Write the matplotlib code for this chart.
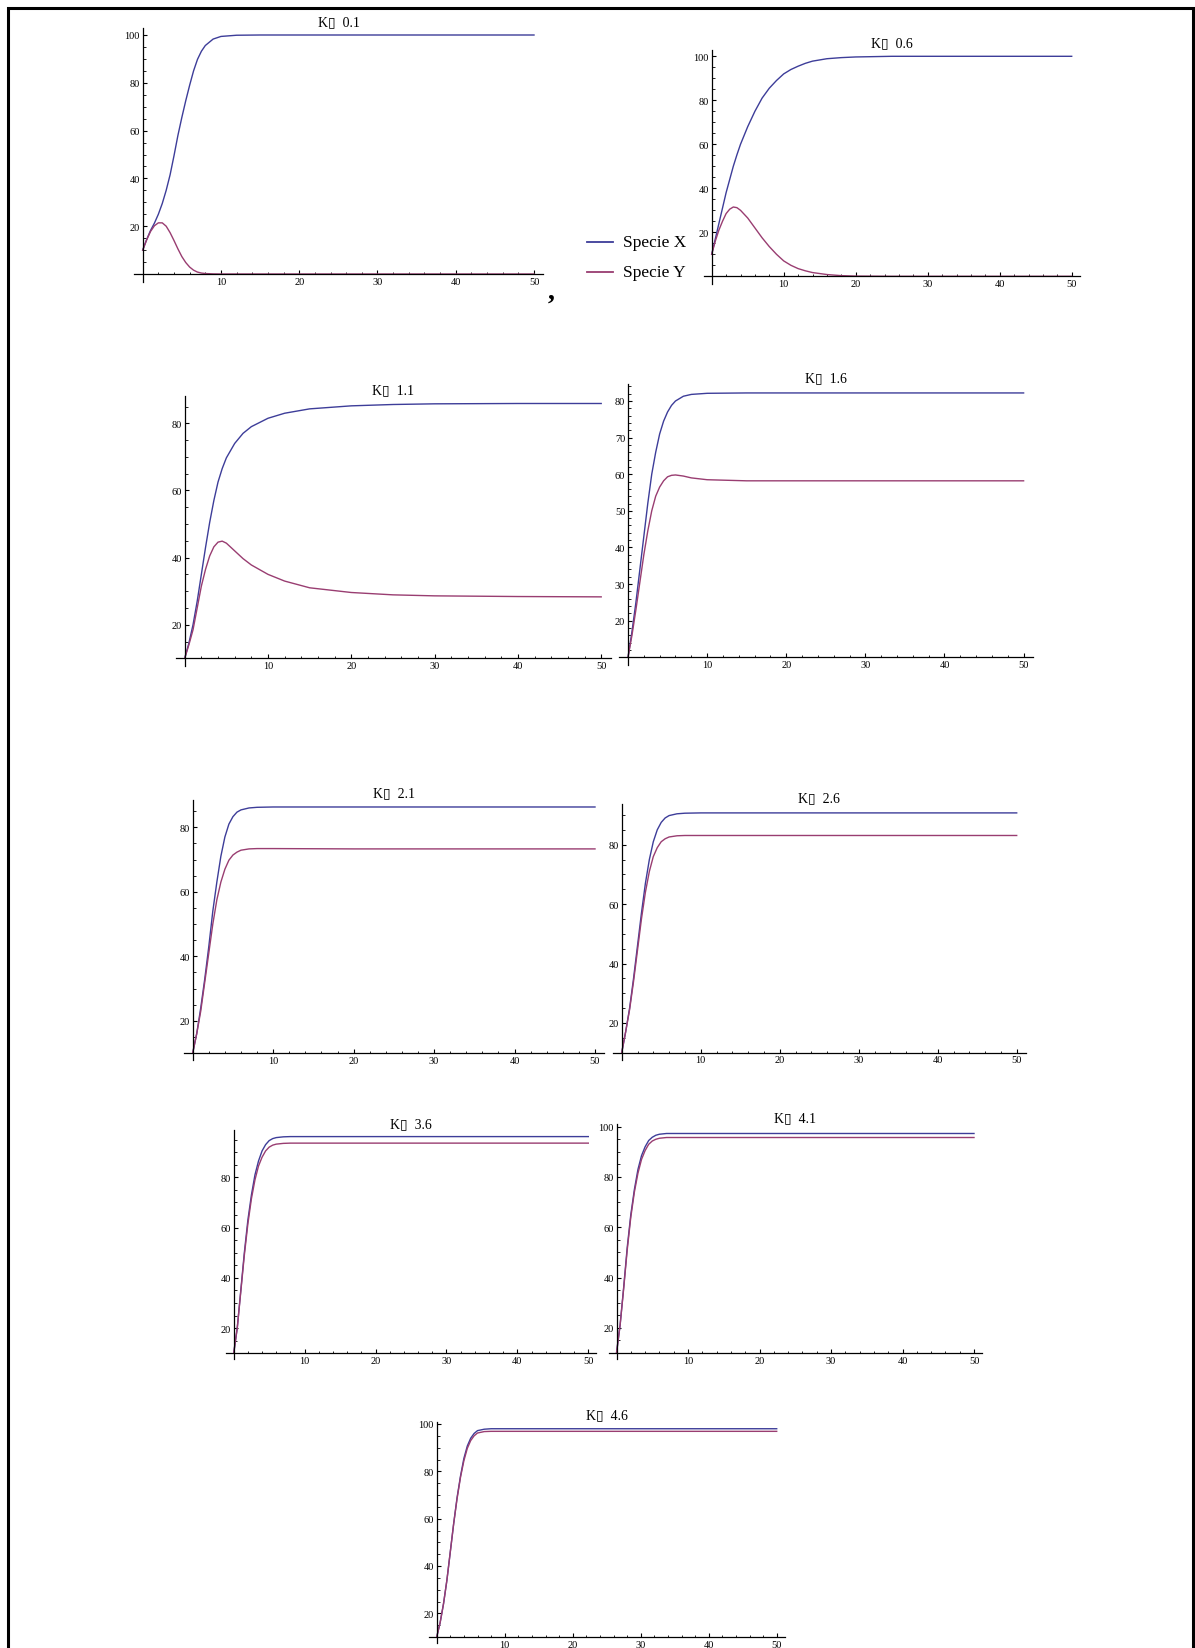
import matplotlib
matplotlib.use("Agg")
import matplotlib.pyplot as plt
from matplotlib.lines import Line2D

# Figure size in pixels
W, H = 1195, 1649

BLUE = "#3d3d99"
RED = "#993d71"
SERIF = ["Liberation Serif", "DejaVu Serif"]
BOX_FONT = ["Liberation Serif", "DejaVu Sans"]

# ---- data (t, Specie X, Specie Y) ----
t_k01 = [0, 0.5, 1, 1.5, 2, 2.5, 3, 3.5, 4, 4.5, 5, 5.5, 6, 6.5, 7, 7.5, 8, 9, 10, 12, 15, 20, 30, 40, 50]
x_k01 = [10, 14.4, 18.2, 21.3, 25, 29.5, 35, 41.5, 49.5, 58, 65.5, 72.5, 79, 85, 89.8, 93.2, 95.6, 98.3, 99.4, 99.9, 100, 100, 100, 100, 100]
y_k01 = [10, 14.2, 17.8, 20.2, 21.4, 21.4, 20, 17.3, 14, 10.5, 7.3, 4.8, 2.9, 1.6, 0.8, 0.4, 0.2, 0.05, 0, 0, 0, 0, 0, 0, 0]

t_k06 = [0, 0.5, 1, 1.5, 2, 2.5, 3, 3.5, 4, 5, 6, 7, 8, 9, 10, 11, 12, 13, 14, 16, 18, 20, 25, 30, 40, 50]
x_k06 = [10, 17, 24, 31, 38, 44, 50, 55.2, 60, 68, 75, 81, 85.5, 89, 92, 94, 95.5, 96.8, 97.8, 98.9, 99.4, 99.7, 100, 100, 100, 100]
y_k06 = [10, 16, 21, 25, 28.5, 30.5, 31.5, 31.2, 30, 26.5, 22, 17.5, 13.5, 10, 7, 5, 3.5, 2.5, 1.7, 0.8, 0.3, 0.1, 0, 0, 0, 0]

t_k11 = [0, 0.5, 1, 1.5, 2, 2.5, 3, 3.5, 4, 4.5, 5, 6, 7, 8, 10, 12, 15, 20, 25, 30, 40, 50]
x_k11 = [10, 14.5, 20, 27, 35, 43, 50.5, 57, 62.5, 66.5, 69.7, 74, 77, 79, 81.5, 83, 84.3, 85.2, 85.6, 85.8, 85.9, 85.9]
y_k11 = [10, 14, 18.5, 25, 31.5, 36.5, 40.5, 43.2, 44.6, 44.9, 44.3, 42, 39.7, 37.8, 35, 33, 31, 29.6, 28.9, 28.6, 28.4, 28.3]

t_k16 = [0, 0.5, 1, 1.5, 2, 2.5, 3, 3.5, 4, 4.5, 5, 5.5, 6, 7, 8, 10, 15, 20, 30, 50]
x_k16 = [10, 17, 25, 34, 43, 52, 60, 66, 71, 74.5, 77, 78.8, 80, 81.3, 81.8, 82.1, 82.2, 82.2, 82.2, 82.2]
y_k16 = [10, 16, 23, 30.5, 38, 44.5, 50, 54, 56.5, 58.2, 59.3, 59.7, 59.8, 59.5, 59, 58.5, 58.2, 58.2, 58.2, 58.2]

t_k21 = [0, 0.5, 1, 1.5, 2, 2.5, 3, 3.5, 4, 4.5, 5, 5.5, 6, 7, 8, 10, 20, 50]
x_k21 = [10, 16, 24, 33, 43, 54, 63, 71, 77, 81, 83.3, 84.7, 85.4, 86, 86.2, 86.3, 86.3, 86.3]
y_k21 = [10, 16, 23, 32, 41, 50, 57.5, 63, 67, 69.8, 71.4, 72.3, 72.9, 73.3, 73.4, 73.4, 73.3, 73.3]

t_k26 = [0, 0.5, 1, 1.5, 2, 2.5, 3, 3.5, 4, 4.5, 5, 5.5, 6, 7, 8, 10, 20, 50]
x_k26 = [10, 17, 25, 35, 46, 57, 67, 75, 81, 85, 87.5, 89, 89.8, 90.4, 90.6, 90.7, 90.7, 90.7]
y_k26 = [10, 17, 24.5, 34, 44.5, 55, 64, 71, 76, 79, 81, 82, 82.6, 83, 83.1, 83.1, 83.1, 83.1]

t_k36 = [0, 0.5, 1, 1.5, 2, 2.5, 3, 3.5, 4, 4.5, 5, 5.5, 6, 7, 8, 10, 20, 50]
x_k36 = [10, 20, 35, 50, 63, 73, 81, 86.5, 90.5, 93, 94.6, 95.4, 95.8, 96.1, 96.2, 96.2, 96.2, 96.2]
y_k36 = [10, 20, 34.5, 49, 61.5, 71.5, 79, 84.5, 88, 90.5, 92, 92.8, 93.2, 93.5, 93.6, 93.6, 93.6, 93.6]

t_k41 = [0, 0.5, 1, 1.5, 2, 2.5, 3, 3.5, 4, 4.5, 5, 5.5, 6, 7, 8, 10, 20, 50]
x_k41 = [10, 21, 36, 52, 65, 75, 83, 88.5, 92, 94.5, 95.8, 96.6, 97, 97.3, 97.3, 97.3, 97.3, 97.3]
y_k41 = [10, 21, 35.5, 51, 64, 74, 81.5, 87, 90.5, 93, 94.3, 95, 95.4, 95.7, 95.7, 95.7, 95.7, 95.7]

t_k46 = [0, 0.5, 1, 1.5, 2, 2.5, 3, 3.5, 4, 4.5, 5, 5.5, 6, 7, 8, 10, 20, 50]
x_k46 = [10, 16, 24, 34, 46, 58, 69, 78, 85.5, 90.7, 94, 96, 97.2, 97.8, 98, 98, 98, 98]
y_k46 = [10, 16, 24, 34, 46, 58, 68.5, 77.5, 84.5, 89.7, 93, 95, 96.2, 96.8, 96.9, 96.9, 96.9, 96.9]

titles = ["0.1", "0.6", "1.1", "1.6", "2.1", "2.6", "3.6", "4.1", "4.6"]
series = [
    (t_k01, x_k01, y_k01), (t_k06, x_k06, y_k06), (t_k11, x_k11, y_k11),
    (t_k16, x_k16, y_k16), (t_k21, x_k21, y_k21), (t_k26, x_k26, y_k26),
    (t_k36, x_k36, y_k36), (t_k41, x_k41, y_k41), (t_k46, x_k46, y_k46),
]
y_major = [20, 20, 20, 10, 20, 20, 20, 20, 20]
y_minor = [5, 5, 5, 2, 5, 5, 5, 5, 5]

# ---- layout: pixel position of t=0, t=50, two y reference values, y limits ----
layout = [
    (142.7, 534.0, 0, 275.0, 100, 36.0, (-3.5, 103)),
    (711.7, 1071.7, 0, 277.3, 100, 57.3, (-3.5, 103)),
    (184.7, 601.2, 10, 659.3, 80, 424.3, (7.8, 88)),
    (628.0, 1023.6, 10, 658.3, 80, 402.0, (8.0, 84.6)),
    (192.7, 595.0, 10, 1054.0, 80, 828.3, (7.8, 88.6)),
    (621.7, 1016.7, 10, 1053.7, 80, 845.7, (7.6, 93.7)),
    (233.7, 588.3, 10, 1354.2, 80, 1178.3, (7.5, 98.8)),
    (616.5, 974.0, 10, 1354.0, 100, 1127.7, (7.5, 101)),
    (436.7, 776.7, 10, 1638.0, 100, 1425.0, (7.5, 101)),
]
XLIM = (-1.1, 51.15)

fig = plt.figure(figsize=(W / 100, H / 100), dpi=100)
fig.patch.set_facecolor("white")


def make_axes(t0px, t50px, ya, ya_px, yb, yb_px, ylim):
    sx = (t50px - t0px) / 50.0
    left = t0px + XLIM[0] * sx
    right = t0px + XLIM[1] * sx
    sy = (ya_px - yb_px) / (yb - ya)
    bottom = ya_px + (ya - ylim[0]) * sy
    top = ya_px - (ylim[1] - ya) * sy
    return fig.add_axes([left / W, 1 - bottom / H, (right - left) / W, (bottom - top) / H])


for i, (ts, xs, ys) in enumerate(series):
    t0px, t50px, ya, ya_px, yb, yb_px, ylim = layout[i]
    ax = make_axes(*layout[i])
    ax.plot(ts, xs, color=BLUE, lw=1.0, solid_joinstyle="round")
    ax.plot(ts, ys, color=RED, lw=1.0, solid_joinstyle="round")
    ax.set_xlim(*XLIM)
    ax.set_ylim(*ylim)
    ax.patch.set_alpha(0)

    # axes crossing at (0, origin) like the original
    origin = ya
    ax.spines["left"].set_position(("data", 0))
    ax.spines["bottom"].set_position(("data", origin))
    ax.spines["top"].set_visible(False)
    ax.spines["right"].set_visible(False)
    for s in ("left", "bottom"):
        ax.spines[s].set_linewidth(0.9)

    ax.set_xticks([10, 20, 30, 40, 50])
    yt = [v for v in range(0, 101, y_major[i]) if v > origin + 5 and v <= ylim[1]]
    ax.set_yticks(yt)
    xm = [v for v in range(2, 51, 2) if v % 10]
    ax.set_xticks(xm, minor=True)
    ym = [v for v in range(0, 101, y_minor[i]) if v % y_major[i] and origin < v < ylim[1]]
    ax.set_yticks(ym, minor=True)

    ax.tick_params(which="major", direction="in", length=3.2, width=0.8,
                   labelsize=7.5, pad=2)
    ax.tick_params(which="minor", direction="in", length=1.8, width=0.6)
    for lab in ax.get_xticklabels() + ax.get_yticklabels():
        lab.set_family(SERIF)

    ax.set_title("K\u25af  " + titles[i], fontsize=10, family=BOX_FONT, pad=1.5)

# ---- legend between the two top panels ----
for k, (col, name) in enumerate([(BLUE, "Specie X"), (RED, "Specie Y")]):
    yy = 243 + 30 * k
    fig.add_artist(Line2D([587 / W, 613 / W], [1 - yy / H, 1 - yy / H], color=col, lw=1.3))
    fig.text(623 / W, 1 - yy / H, name, fontsize=12.5, family=SERIF, va="center", ha="left")

fig.text(551 / W, 1 - 292 / H, ",", fontsize=20, family=SERIF, fontweight="bold",
         ha="center", va="center")

# ---- frame around the whole output (left, top, right) ----
fx0, fx1, fy = 8 / W, 1193 / W, 1 - 8.5 / H
fig.add_artist(Line2D([fx0, fx0, fx1, fx1], [0, fy, fy, 0], color="black", lw=2.2,
                      solid_joinstyle="miter"))

fig.savefig("out.png", dpi=100)
